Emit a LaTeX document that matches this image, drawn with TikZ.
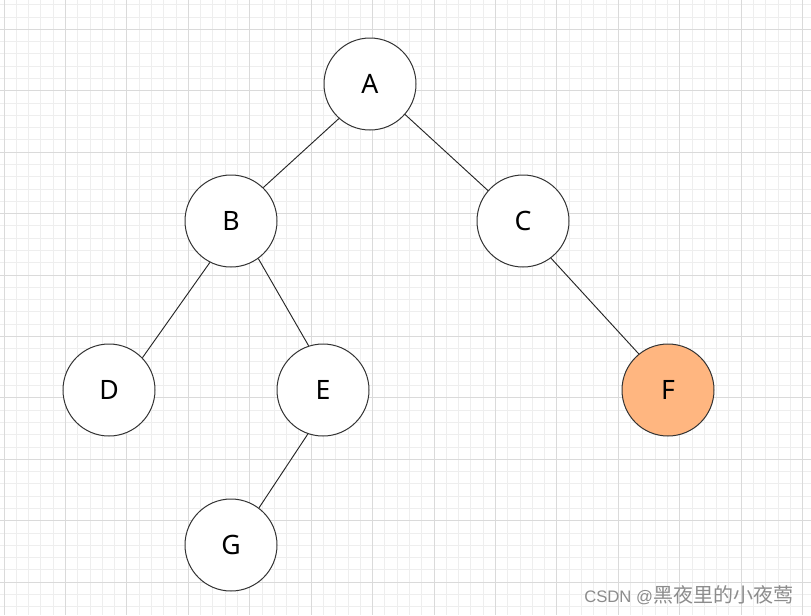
\documentclass[tikz,border=0pt]{standalone}
\usepackage{fontspec}
\setmainfont{Noto Sans}
\newfontfamily\wmfont{Liberation Sans}
\newfontfamily\cjk{Noto Sans CJK SC}
\usepackage{tikz}
\usetikzlibrary{positioning}
\definecolor{gridminor}{HTML}{EEEEEE}
\definecolor{gridmajor}{HTML}{DADADA}
\definecolor{ringgray}{HTML}{333333}
\definecolor{peach}{HTML}{FFB680}
\tikzset{
  bt/grid minor/.style={draw=gridminor, line width=0.75pt},
  bt/grid major/.style={draw=gridmajor, line width=0.75pt},
  bt/mark/.style={font=\wmfont\fontsize{12.5}{14}\selectfont, text=black!45, inner sep=0pt}
}

\begin{document}
\begin{tikzpicture}[
  x=0.75pt, y=-0.75pt,
  vertex/.style={draw=ringgray, circle, line width=0.75pt, fill=white, minimum size=69pt, inner sep=0pt, font=\fontsize{20}{24}\selectfont},
  hot/.style={vertex, fill=peach},
  link/.style={draw=black!85, line width=0.7pt}
]
\useasboundingbox (0,0) rectangle (811,615);
\fill[white] (0,0) rectangle (811,615);

% background grid
\foreach \i in {0,...,65}
  \draw[bt/grid minor] ({4+\i*12.286},0) -- ({4+\i*12.286},615);
\foreach \j in {0,...,49}
  \draw[bt/grid minor] (0,{4.73+\j*12.286}) -- (811,{4.73+\j*12.286});
\foreach \i in {0,...,13}
  \draw[bt/grid major] ({4+\i*61.43},0) -- ({4+\i*61.43},615);
\foreach \j in {0,...,9}
  \draw[bt/grid major] (0,{29.3+\j*61.43}) -- (811,{29.3+\j*61.43});

% tree
\node[vertex] (A) at (370,84) {A};
\node[vertex] (B) at (231,221) {B};
\node[vertex] (C) at (523,221) {C};
\node[vertex] (D) at (109,390) {D};
\node[vertex] (E) at (323,390) {E};
\node[hot]    (F) at (668,390) {F};
\node[vertex] (G) at (231,545) {G};

\draw[link] (A.-132) -- (B.46);
\draw[link] (A.-41) -- (C.139);
\draw[link] (B.-117) -- (D.44);
\draw[link] (B.-54) -- (E.108);
\draw[link] (C.-53) -- (F.129);
\draw[link] (E.-109) -- (G.53);

\node[bt/mark, anchor=base west] (wm) at (584,602) {CSDN @{\cjk\fontsize{15}{16}\selectfont 黑夜里的小夜莺}};
\end{tikzpicture}
\end{document}
